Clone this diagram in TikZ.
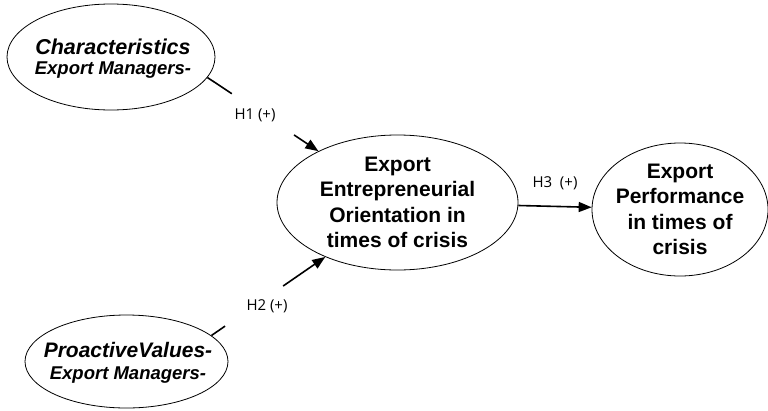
\documentclass[tikz,border=0pt]{standalone}
\usepackage{fontspec}
\setmainfont{Liberation Sans}
\newfontfamily\hypfont{Open Sans}
\usetikzlibrary{shapes.geometric,arrows.meta}
\tikzset{
  oval/.style={draw,ellipse,line width=0.8pt,inner sep=0pt},
  lefttext/.style={align=center,font=\bfseries\itshape\fontsize{18.5}{20}\selectfont},
  bigtext/.style={align=center,font=\bfseries\fontsize{21}{25.5}\selectfont},
  hyp/.style={font=\hypfont\fontsize{15}{17}\selectfont},
  link/.style={line width=1.6pt},
  linkarrow/.style={line width=1.6pt,-{Triangle[length=13pt,width=10pt]}}
}

\begin{document}
\begin{tikzpicture}[x=1pt,y=-1pt]
\useasboundingbox (0,0) rectangle (768,410);
\node[oval,minimum width=208,minimum height=106] (char) at (111,57) {};
\node[oval,minimum width=203,minimum height=93] (pv) at (126.5,361.5) {};
\node[oval,minimum width=241,minimum height=135] (eeo) at (397.5,202.5) {};
\node[oval,minimum width=176,minimum height=133] (perf) at (680,209.5) {};
\node[lefttext] (chartext) at (113,59) {{\fontsize{21.5}{20}\selectfont Characteristics}\\Export Managers-};
\node[lefttext] (pvtext) at (128,363) {{\fontsize{21}{20}\selectfont ProactiveValues-}\\[2pt]Export Managers-};
\node[bigtext] (eeotext) at (eeo) {Export\\Entrepreneurial\\Orientation in\\times of crisis};
\node[bigtext] (perftext) at (perf) {Export\\Performance\\in times of\\crisis};
\path (char.-12) -- (eeo.147) coordinate[pos=0.22] (h1a) coordinate[pos=0.78] (h1b);
\draw[link] (char.-12) -- (h1a);
\draw[linkarrow] (h1b) -- (eeo.147);
\node[hyp] (h1) at (255,115) {H1 (+)};
\path (pv.17) -- (eeo.217) coordinate[pos=0.12] (h2a) coordinate[pos=0.63] (h2b);
\draw[link] (pv.17) -- (h2a);
\draw[linkarrow] (h2b) -- (eeo.217);
\node[hyp] (h2) at (267,306) {H2 (+)};
\draw[linkarrow] (eeo) -- (perf);
\node[hyp] (h3) at (555,183) {H3\ \ (+)};
\end{tikzpicture}
\end{document}
